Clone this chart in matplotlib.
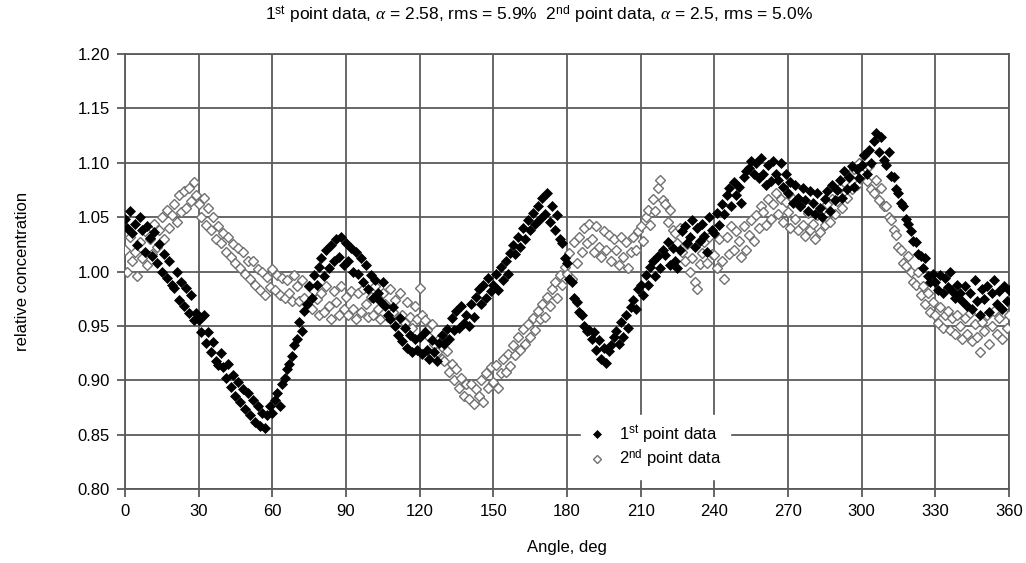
import numpy as np
import matplotlib
matplotlib.use("Agg")
import matplotlib.pyplot as plt

plt.rcParams['font.family'] = ['Liberation Sans Narrow', 'Liberation Sans', 'DejaVu Sans']
plt.rcParams['mathtext.fontset'] = 'custom'
plt.rcParams['mathtext.rm'] = 'Liberation Sans'
plt.rcParams['mathtext.it'] = 'Liberation Serif:italic'

# angle, deg (one reading per degree)
angle = np.arange(0, 361)

# 1st point data (black diamonds)
first = [
    1.048, 1.040, 1.056, 1.035, 1.044, 1.024, 1.050, 1.038, 1.018, 1.042,
    1.031, 1.014, 1.036, 1.008, 1.025, 1.000, 1.016, 0.994, 1.010, 0.988,
    0.985, 1.000, 0.974, 0.990, 0.968, 0.985, 0.962, 0.978, 0.955, 0.962,
    0.955, 0.944, 0.960, 0.934, 0.944, 0.926, 0.935, 0.918, 0.914, 0.925,
    0.912, 0.902, 0.915, 0.894, 0.905, 0.886, 0.898, 0.880, 0.892, 0.874,
    0.888, 0.868, 0.882, 0.862, 0.876, 0.858, 0.870, 0.856, 0.868, 0.876,
    0.870, 0.882, 0.888, 0.876, 0.897, 0.902, 0.910, 0.915, 0.922, 0.932,
    0.938, 0.954, 0.945, 0.964, 0.970, 0.987, 0.976, 0.997, 0.988, 1.004,
    1.012, 0.996, 1.020, 1.003, 1.024, 1.010, 1.030, 1.013, 1.032, 1.006,
    1.026, 1.010, 1.022, 1.000, 1.018, 0.998, 1.012, 0.990, 1.006, 0.984,
    0.997, 0.976, 0.992, 0.980, 0.973, 0.990, 0.968, 0.960, 0.956, 0.967,
    0.950, 0.942, 0.957, 0.936, 0.948, 0.930, 0.942, 0.926, 0.938, 0.928,
    0.940, 0.924, 0.944, 0.928, 0.920, 0.937, 0.926, 0.918, 0.934, 0.942,
    0.933, 0.947, 0.938, 0.957, 0.946, 0.964, 0.948, 0.968, 0.953, 0.960,
    0.950, 0.970, 0.958, 0.977, 0.984, 0.970, 0.988, 0.976, 0.994, 0.982,
    0.988, 0.998, 0.983, 1.004, 0.992, 1.010, 0.998, 1.017, 1.024, 1.016,
    1.032, 1.023, 1.040, 1.030, 1.047, 1.038, 1.054, 1.044, 1.060, 1.048,
    1.068, 1.053, 1.072, 1.046, 1.060, 1.038, 1.052, 1.030, 1.026, 1.012,
    1.008, 0.993, 0.990, 0.976, 0.972, 0.963, 0.960, 0.950, 0.945, 0.946,
    0.938, 0.944, 0.928, 0.937, 0.920, 0.930, 0.916, 0.927, 0.932, 0.940,
    0.945, 0.933, 0.954, 0.940, 0.960, 0.948, 0.967, 0.974, 0.966, 0.984,
    0.988, 0.978, 0.997, 0.988, 1.004, 1.010, 0.996, 1.014, 1.003, 1.020,
    1.015, 1.027, 1.006, 1.022, 1.010, 1.003, 1.020, 1.037, 1.042, 1.026,
    1.032, 1.047, 1.023, 1.040, 1.028, 1.044, 1.033, 1.018, 1.050, 1.038,
    1.035, 1.054, 1.043, 1.062, 1.053, 1.070, 1.077, 1.060, 1.082, 1.070,
    1.078, 1.063, 1.087, 1.092, 1.095, 1.102, 1.090, 1.100, 1.086, 1.104,
    1.090, 1.080, 1.098, 1.083, 1.102, 1.090, 1.084, 1.100, 1.078, 1.090,
    1.072, 1.082, 1.063, 1.080, 1.068, 1.060, 1.077, 1.066, 1.056, 1.074,
    1.063, 1.053, 1.072, 1.058, 1.050, 1.067, 1.074, 1.056, 1.080, 1.066,
    1.075, 1.084, 1.068, 1.092, 1.076, 1.087, 1.097, 1.078, 1.094, 1.086,
    1.098, 1.107, 1.090, 1.112, 1.100, 1.120, 1.127, 1.110, 1.124, 1.103,
    1.098, 1.110, 1.088, 1.087, 1.076, 1.072, 1.063, 1.060, 1.048, 1.044,
    1.037, 1.028, 1.027, 1.016, 1.014, 1.003, 1.012, 0.996, 0.990, 0.998,
    0.990, 0.983, 0.997, 0.980, 0.994, 0.986, 1.000, 0.982, 0.976, 0.988,
    0.980, 0.973, 0.987, 0.968, 0.980, 0.966, 0.992, 0.973, 0.960, 0.984,
    0.975, 0.987, 0.963, 0.980, 0.992, 0.970, 0.982, 0.966, 0.987, 0.973,
    0.983,
]

# 2nd point data (open diamonds)
second = [
    1.020, 1.000, 1.032, 1.010, 1.018, 0.996, 1.027, 1.012, 1.037, 1.006,
    1.030, 1.016, 1.044, 1.023, 1.038, 1.050, 1.030, 1.057, 1.040, 1.052,
    1.062, 1.046, 1.070, 1.055, 1.074, 1.058, 1.077, 1.065, 1.082, 1.070,
    1.062, 1.050, 1.068, 1.043, 1.058, 1.038, 1.050, 1.030, 1.042, 1.026,
    1.035, 1.018, 1.032, 1.013, 1.025, 1.008, 1.022, 1.003, 1.018, 0.998,
    1.010, 0.993, 1.010, 0.988, 1.002, 0.983, 1.000, 0.978, 0.995, 0.986,
    1.002, 0.983, 0.997, 0.978, 0.994, 0.976, 0.992, 0.980, 0.973, 0.997,
    0.987, 0.973, 0.992, 0.976, 0.970, 0.987, 0.966, 0.982, 0.975, 0.960,
    0.980, 0.963, 0.987, 0.968, 0.956, 0.982, 0.972, 0.960, 0.987, 0.966,
    0.977, 0.960, 0.982, 0.966, 0.956, 0.980, 0.963, 0.984, 0.970, 0.958,
    0.977, 0.960, 0.987, 0.966, 0.956, 0.980, 0.970, 0.958, 0.984, 0.963,
    0.974, 0.956, 0.980, 0.960, 0.953, 0.972, 0.958, 0.948, 0.968, 0.956,
    0.985, 0.960, 0.955, 0.946, 0.940, 0.952, 0.933, 0.926, 0.938, 0.920,
    0.918, 0.927, 0.908, 0.915, 0.900, 0.910, 0.893, 0.902, 0.886, 0.897,
    0.883, 0.897, 0.878, 0.892, 0.886, 0.900, 0.880, 0.907, 0.893, 0.912,
    0.898, 0.914, 0.893, 0.907, 0.920, 0.908, 0.924, 0.913, 0.932, 0.923,
    0.940, 0.928, 0.947, 0.933, 0.952, 0.940, 0.957, 0.946, 0.964, 0.956,
    0.970, 0.958, 0.977, 0.968, 0.984, 0.990, 0.976, 0.997, 0.988, 1.004,
    0.998, 1.017, 0.993, 1.027, 1.008, 1.032, 1.018, 1.040, 1.026, 1.044,
    1.030, 1.018, 1.042, 1.023, 1.013, 1.037, 1.020, 1.034, 1.010, 1.030,
    1.020, 1.006, 1.032, 1.013, 1.027, 1.003, 1.018, 1.032, 1.020, 1.037,
    1.042, 1.028, 1.050, 1.057, 1.043, 1.067, 1.056, 1.077, 1.084, 1.066,
    1.062, 1.046, 1.057, 1.038, 1.035, 1.026, 1.040, 1.018, 1.010, 1.025,
    1.000, 1.012, 0.990, 0.984, 1.007, 1.017, 1.027, 1.008, 1.032, 1.016,
    1.015, 1.003, 1.030, 1.010, 0.993, 1.032, 1.016, 1.042, 1.020, 1.037,
    1.028, 1.013, 1.042, 1.020, 1.034, 1.047, 1.028, 1.052, 1.040, 1.060,
    1.055, 1.043, 1.067, 1.048, 1.062, 1.072, 1.053, 1.067, 1.046, 1.064,
    1.055, 1.040, 1.067, 1.048, 1.038, 1.060, 1.043, 1.033, 1.054, 1.038,
    1.044, 1.030, 1.052, 1.036, 1.057, 1.043, 1.062, 1.046, 1.067, 1.053,
    1.065, 1.077, 1.058, 1.082, 1.068, 1.087, 1.076, 1.094, 1.080, 1.100,
    1.090, 1.107, 1.083, 1.097, 1.076, 1.072, 1.084, 1.066, 1.077, 1.060,
    1.060, 1.050, 1.047, 1.038, 1.034, 1.023, 1.020, 1.008, 1.005, 1.014,
    1.000, 0.990, 0.988, 1.000, 0.978, 0.987, 0.970, 0.980, 0.963, 0.972,
    0.960, 0.953, 0.967, 0.948, 0.960, 0.964, 0.946, 0.957, 0.943, 0.960,
    0.950, 0.938, 0.957, 0.943, 0.962, 0.936, 0.952, 0.940, 0.926, 0.954,
    0.945, 0.960, 0.933, 0.950, 0.964, 0.943, 0.957, 0.938, 0.962, 0.948,
    0.960,
]

x_ticks = list(range(0, 361, 30))
y_ticks = [0.80, 0.85, 0.90, 0.95, 1.00, 1.05, 1.10, 1.15, 1.20]

grid_col = '#5a5a5a'

fig = plt.figure(figsize=(10.26, 5.63), dpi=100)
ax = fig.add_axes([0.1218, 0.1314, 0.8616, 0.7726])

ax.plot(angle, second, linestyle='none', marker='D', markersize=5.0,
        markerfacecolor='white', markeredgecolor='#707070', markeredgewidth=1.0,
        label='2$^{\\mathrm{nd}}$ point data', zorder=3)
ax.plot(angle, first, linestyle='none', marker='D', markersize=5.0,
        markerfacecolor='black', markeredgecolor='black', markeredgewidth=0.5,
        label='1$^{\\mathrm{st}}$ point data', zorder=4)

ax.set_xlim(0, 360)
ax.set_ylim(0.80, 1.20)
ax.set_xticks(x_ticks)
ax.set_yticks(y_ticks)
ax.set_yticklabels([f'{v:.2f}' for v in y_ticks])
ax.grid(True, color=grid_col, linewidth=1.3)
ax.set_axisbelow(True)
for s in ax.spines.values():
    s.set_color(grid_col)
    s.set_linewidth(1.3)
ax.tick_params(axis='both', direction='out', length=6, width=1.3,
               color=grid_col, labelsize=12, pad=5)

handles, labels = ax.get_legend_handles_labels()
leg = ax.legend(handles[::-1], labels[::-1], loc='lower left',
                bbox_to_anchor=(0.506, 0.005), frameon=True, fontsize=12,
                handletextpad=0.8, borderpad=0.5, labelspacing=0.15,
                handlelength=1.0, markerscale=0.75)
leg.get_frame().set_facecolor('white')
leg.get_frame().set_edgecolor('white')
leg.get_frame().set_alpha(1.0)
leg.set_zorder(5)

ax.set_xlabel('Angle, deg', fontsize=12, labelpad=15)
ax.set_ylabel('relative concentration', fontsize=12, labelpad=34)

fig.text(0.525, 0.993,
         '1$^{\\mathrm{st}}$ point data, $\\alpha$ = 2.58, rms = 5.9%  '
         '2$^{\\mathrm{nd}}$ point data, $\\alpha$ = 2.5, rms = 5.0%',
         ha='center', va='top', fontsize=12.5)

fig.savefig('out.png', dpi=100)
